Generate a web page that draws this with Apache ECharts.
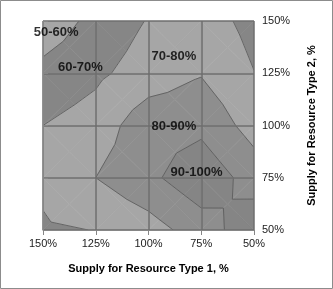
<!DOCTYPE html>
<html>
<head>
<meta charset="utf-8">
<script src="https://cdn.jsdelivr.net/npm/echarts@6/dist/echarts.min.js"></script>
<style>html,body{margin:0;padding:0;background:#fff}#c{width:333px;height:289px}</style>
</head>
<body>
<div id="c"></div>
<script>
// Axis categories
const xLabels = ['150%', '125%', '100%', '75%', '50%'];   // Supply for Resource Type 1 (left -> right)
const yLabels = ['50%', '75%', '100%', '125%', '150%'];   // Supply for Resource Type 2 (bottom -> top)

// Surface values (one row per Type-2 supply level, columns follow xLabels)
const row50  = [68.8, 70.2, 75.7, 84.9, 96.5];
const row75  = [72.0, 80.0, 87.6, 97.0, 85.5];
const row100 = [70.0, 74.5, 86.2, 87.5, 76.0];
const row125 = [62.9, 68.0, 74.7, 79.4, 70.2];
const row150 = [53.6, 63.0, 70.6, 75.0, 66.7];

// Contour bands
const levels = [50, 60, 70, 80, 90, 100];
const bandNames = ['50-60%', '60-70%', '70-80%', '80-90%', '90-100%'];
const bandColors = ['#a6a6a6', '#868686', '#a6a6a6', '#8e8e8e', '#858585'];

// Band label anchor positions (in axis units)
const bandLabelX = [0.25, 0.71, 2.48, 2.48, 2.91];
const bandLabelY = [3.78, 3.12, 3.33, 1.99, 1.105];

const grid = [row50, row75, row100, row125, row150];

const cells = [];
for (let r = 0; r < yLabels.length - 1; r++)
  for (let c = 0; c < xLabels.length - 1; c++) cells.push([c, r]);

function clip(poly, level, keepAbove) {
  const out = [];
  const n = poly.length;
  for (let i = 0; i < n; i++) {
    const a = poly[i], b = poly[(i + 1) % n];
    const ina = keepAbove ? a[2] >= level : a[2] <= level;
    const inb = keepAbove ? b[2] >= level : b[2] <= level;
    if (ina) out.push(a);
    if (ina !== inb) {
      const t = (level - a[2]) / (b[2] - a[2]);
      out.push([a[0] + t * (b[0] - a[0]), a[1] + t * (b[1] - a[1]), level]);
    }
  }
  return out;
}

function segment(tri, level) {
  const pts = [];
  for (let i = 0; i < 3; i++) {
    const a = tri[i], b = tri[(i + 1) % 3];
    const ua = a[2] >= level, ub = b[2] >= level;
    if (ua !== ub) {
      const t = (level - a[2]) / (b[2] - a[2]);
      pts.push([a[0] + t * (b[0] - a[0]), a[1] + t * (b[1] - a[1])]);
    }
  }
  return pts.length === 2 ? pts : null;
}

function renderCell(params, api) {
  const c = api.value(0), r = api.value(1);
  const BL = [c, r, grid[r][c]];
  const BR = [c + 1, r, grid[r][c + 1]];
  const TR = [c + 1, r + 1, grid[r + 1][c + 1]];
  const TL = [c, r + 1, grid[r + 1][c]];
  const C = [c + 0.5, r + 0.5, (BL[2] + BR[2] + TR[2] + TL[2]) / 4];
  const tris = [[BL, BR, C], [BR, TR, C], [TR, TL, C], [TL, BL, C]];
  const children = [];
  tris.forEach(tri => {
    for (let i = 0; i < bandColors.length; i++) {
      let p = clip(tri, levels[i], true);
      if (p.length >= 3) p = clip(p, levels[i + 1], false);
      if (p.length >= 3) {
        children.push({
          type: 'polygon',
          shape: { points: p.map(q => api.coord([q[0], q[1]])) },
          style: { fill: bandColors[i], stroke: bandColors[i], lineWidth: 0.6 }
        });
      }
    }
  });
  tris.forEach(tri => {
    for (let k = 1; k < levels.length - 1; k++) {
      const s = segment(tri, levels[k]);
      if (s) {
        const p1 = api.coord(s[0]), p2 = api.coord(s[1]);
        children.push({
          type: 'line',
          shape: { x1: p1[0], y1: p1[1], x2: p2[0], y2: p2[1] },
          style: { stroke: '#5e5e5e', lineWidth: 0.9 }
        });
      }
    }
  });
  return { type: 'group', children };
}

const chart = echarts.init(document.getElementById('c'), null, { renderer: 'canvas' });
const font = 'Liberation Sans';
chart.setOption({
  animation: false,
  backgroundColor: '#ffffff',
  graphic: [{
    type: 'rect', shape: { x: 0.5, y: 0.5, width: 332, height: 288 },
    style: { fill: 'none', stroke: '#8c8c8c', lineWidth: 1 }, z: 100
  }],
  grid: { left: 43, right: 79, top: 21, bottom: 59, containLabel: false },
  xAxis: {
    type: 'value', min: 0, max: 4, interval: 1,
    name: 'Supply for Resource Type 1, %', nameLocation: 'middle', nameGap: 33,
    nameTextStyle: { fontFamily: font, fontSize: 11, fontWeight: 'bold', color: '#000' },
    axisLine: { show: true, lineStyle: { color: '#868686', width: 1 } },
    axisTick: { show: true, length: 5, lineStyle: { color: '#868686' } },
    axisLabel: { formatter: v => xLabels[v] || '', fontFamily: font, fontSize: 11, color: '#222', margin: 8 },
    splitLine: { show: true, lineStyle: { color: '#6e6e6e', width: 1.5 } }
  },
  yAxis: {
    type: 'value', position: 'right', min: 0, max: 4, interval: 1,
    name: 'Supply for Resource Type 2, %', nameLocation: 'middle', nameGap: 52, nameRotate: 90,
    nameTextStyle: { fontFamily: font, fontSize: 11, fontWeight: 'bold', color: '#000' },
    axisLine: { show: true, lineStyle: { color: '#868686', width: 1 } },
    axisTick: { show: true, length: 5, lineStyle: { color: '#868686' } },
    axisLabel: { formatter: v => yLabels[v] || '', fontFamily: font, fontSize: 11, color: '#222', margin: 8 },
    splitLine: { show: true, lineStyle: { color: '#6e6e6e', width: 1.5 } }
  },
  series: [{
    type: 'custom',
    z: -1,
    renderItem: renderCell,
    data: cells,
    encode: { x: 0, y: 1 },
    clip: true
  }, {
    type: 'scatter',
    symbolSize: 0,
    clip: false,
    z: 10,
    data: bandNames.map((n, i) => ({ name: n, value: [bandLabelX[i], bandLabelY[i]] })),
    label: {
      show: true, position: 'inside', formatter: p => p.name,
      fontFamily: font, fontSize: 13, fontWeight: 'bold', color: '#000'
    }
  }]
});
</script>
</body>
</html>
